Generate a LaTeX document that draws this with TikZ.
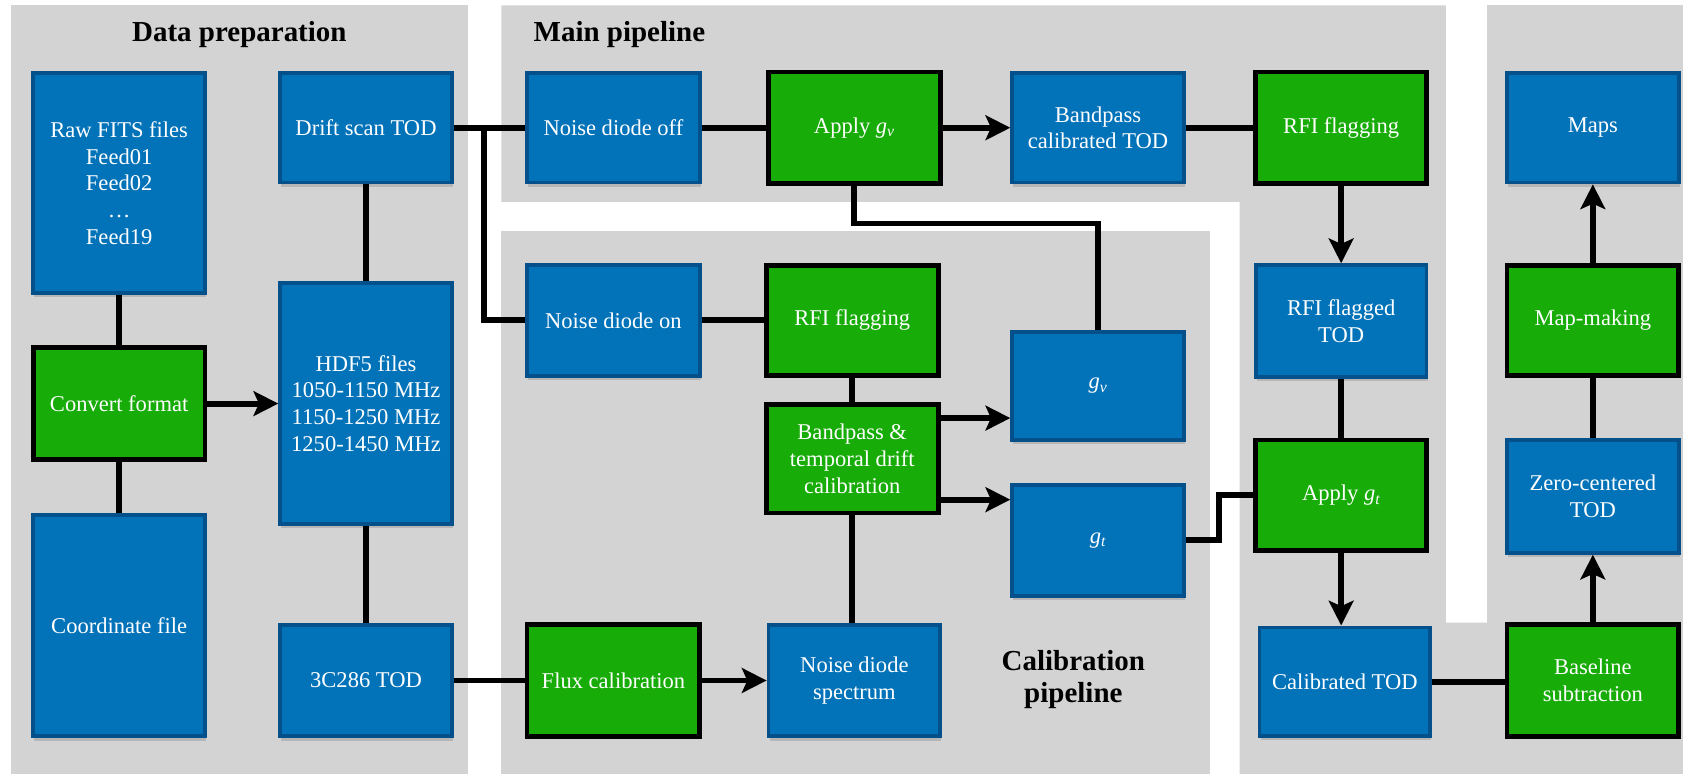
\documentclass[tikz,border=0pt]{standalone}
\usepackage{fontspec}
\setmainfont{Liberation Serif}
\usetikzlibrary{arrows.meta,shadows,calc}
\definecolor{boxblue}{RGB}{2,114,185}
\definecolor{boxedge}{RGB}{4,80,138}
\definecolor{stepgreen}{RGB}{23,172,8}
\definecolor{panel}{RGB}{211,211,211}
\newcommand{\gnu}{{\itshape g}\textsubscript{\itshape ν}}
\newcommand{\gtt}{{\itshape g}\textsubscript{\itshape t}}
\begin{document}
\begin{tikzpicture}[x=1pt,y=-1pt,
  boxtext/.style={text=white, align=center, inner sep=2pt,
    font=\fontsize{21}{25}\selectfont},
  data/.style={boxtext, draw=boxedge, line width=3.5pt, fill=boxblue,
    drop shadow={shadow xshift=1pt, shadow yshift=-4pt, opacity=0.35}},
  proc/.style={boxtext, draw=black, line width=4.5pt, fill=stepgreen},
  conn/.style={line width=5.5pt, draw=black},
  flow/.style={conn, -{Stealth[length=23pt,width=23pt,inset=5pt]}},
  paneltitle/.style={font=\fontsize{27}{30}\selectfont\bfseries, inner sep=0pt}
]
\useasboundingbox (0,0) rectangle (1568,721);

% panels
\fill[panel] (10,5) rectangle (436,721);
\fill[panel] (467,5) -- (1347,5) -- (1347,580) -- (1568,580) -- (1568,721)
  -- (1155,721) -- (1155,188) -- (467,188) -- cycle;
\fill[panel] (1385,5) rectangle (1568,721);
\fill[panel] (467,215) rectangle (1127,721);

% panel titles
\node[paneltitle] (tdata) at (223,32) {Data preparation};
\node[paneltitle, anchor=west] (tmain) at (497,32) {Main pipeline};
\node[paneltitle, align=center] (tcal) at (1000,633) {Calibration\\pipeline};

% data preparation
\node[data, minimum width=160pt, minimum height=205pt] (raw) at (111,170.5)
  {Raw FITS files\\Feed01\\Feed02\\…\\Feed19};
\node[proc, minimum width=160pt, minimum height=104pt] (conv) at (111,376) {Convert format};
\node[data, minimum width=160pt, minimum height=206pt] (coord) at (111,583) {Coordinate file};
\node[data, minimum width=160pt, minimum height=102pt] (drift) at (341,119) {Drift scan TOD};
\node[data, minimum width=160pt, minimum height=224pt] (hdf) at (341,376)
  {HDF5 files\\1050-1150 MHz\\1150-1250 MHz\\1250-1450 MHz};
\node[data, minimum width=160pt, minimum height=104pt] (src) at (341,634) {3C286 TOD};

% main pipeline
\node[data, minimum width=161pt, minimum height=102pt] (ndoff) at (571.5,119) {Noise diode off};
\node[proc, minimum width=160pt, minimum height=104pt] (applynu) at (796,119) {Apply \gnu};
\node[data, minimum width=160pt, minimum height=102pt] (bpcal) at (1023,119) {Bandpass\\calibrated TOD};
\node[proc, minimum width=159pt, minimum height=104pt] (rfia) at (1249.5,119) {RFI flagging};
\node[data, minimum width=159pt, minimum height=104pt] (rfitod) at (1249.5,299) {RFI flagged\\TOD};
\node[proc, minimum width=159pt, minimum height=103pt] (applyt) at (1249.5,461.5) {Apply \gtt};
\node[data, minimum width=159pt, minimum height=101pt] (caltod) at (1253,635) {Calibrated TOD};
\node[proc, minimum width=160pt, minimum height=104pt] (base) at (1484,634) {Baseline\\subtraction};
\node[data, minimum width=160pt, minimum height=105pt] (zero) at (1484,462.5) {Zero-centered\\TOD};
\node[proc, minimum width=160pt, minimum height=103pt] (mapm) at (1484,298.5) {Map-making};
\node[data, minimum width=160pt, minimum height=102pt] (maps) at (1484,119) {Maps};

% calibration pipeline
\node[data, minimum width=161pt, minimum height=103pt] (ndon) at (571.5,298.5) {Noise diode on};
\node[proc, minimum width=160pt, minimum height=103pt] (rfib) at (794,298.5) {RFI flagging};
\node[proc, minimum width=160pt, minimum height=101pt] (bptd) at (794,427.5)
  {Bandpass \&\\temporal drift\\calibration};
\node[data, minimum width=160pt, minimum height=101pt] (gnubox) at (1023,359.5) {\gnu};
\node[data, minimum width=160pt, minimum height=103pt] (gtbox) at (1023,503.5) {\gtt};
\node[proc, minimum width=161pt, minimum height=105pt] (flux) at (571.5,634) {Flux calibration};
\node[data, minimum width=160pt, minimum height=104pt] (nds) at (796,634) {Noise diode\\spectrum};

% connectors: data preparation
\draw[conn] (raw) -- (conv);
\draw[conn] (conv) -- (coord);
\draw[flow] (conv) -- (hdf);
\draw[conn] (drift) -- (hdf);
\draw[conn] (hdf) -- (src);

% connectors: main pipeline
\coordinate (split) at (451,119);
\draw[conn] (drift.east) -- (ndoff.west);
\draw[conn] (split) |- (ndon.west);
\draw[conn] (ndoff) -- (applynu);
\draw[flow] (applynu) -- (bpcal);
\draw[conn] (applynu.south) -- ++(0,35) -| (gnubox.north);
\draw[conn] (bpcal) -- (rfia);
\draw[flow] (rfia) -- (rfitod);
\draw[conn] (rfitod) -- (applyt);
\draw[flow] (applyt.south) -- (applyt.south |- caltod.north);
\draw[conn] (gtbox.east) -- ++(31,0) |- (applyt.west);
\draw[conn] (caltod.east) -- (caltod.east -| base.west);
\draw[flow] (base) -- (zero);
\draw[conn] (zero) -- (mapm);
\draw[flow] (mapm) -- (maps);

% connectors: calibration pipeline
\draw[conn] (ndon) -- (rfib);
\draw[conn] (rfib) -- (bptd);
\draw[flow] ([yshift=38pt]bptd.east) -- ([yshift=38pt]bptd.east -| gnubox.west);
\draw[flow] ([yshift=-38pt]bptd.east) -- ([yshift=-38pt]bptd.east -| gtbox.west);
\draw[conn] (bptd.south) -- (bptd.south |- nds.north);
\draw[conn] (src) -- (flux);
\draw[flow] (flux) -- (nds);
\end{tikzpicture}
\end{document}
